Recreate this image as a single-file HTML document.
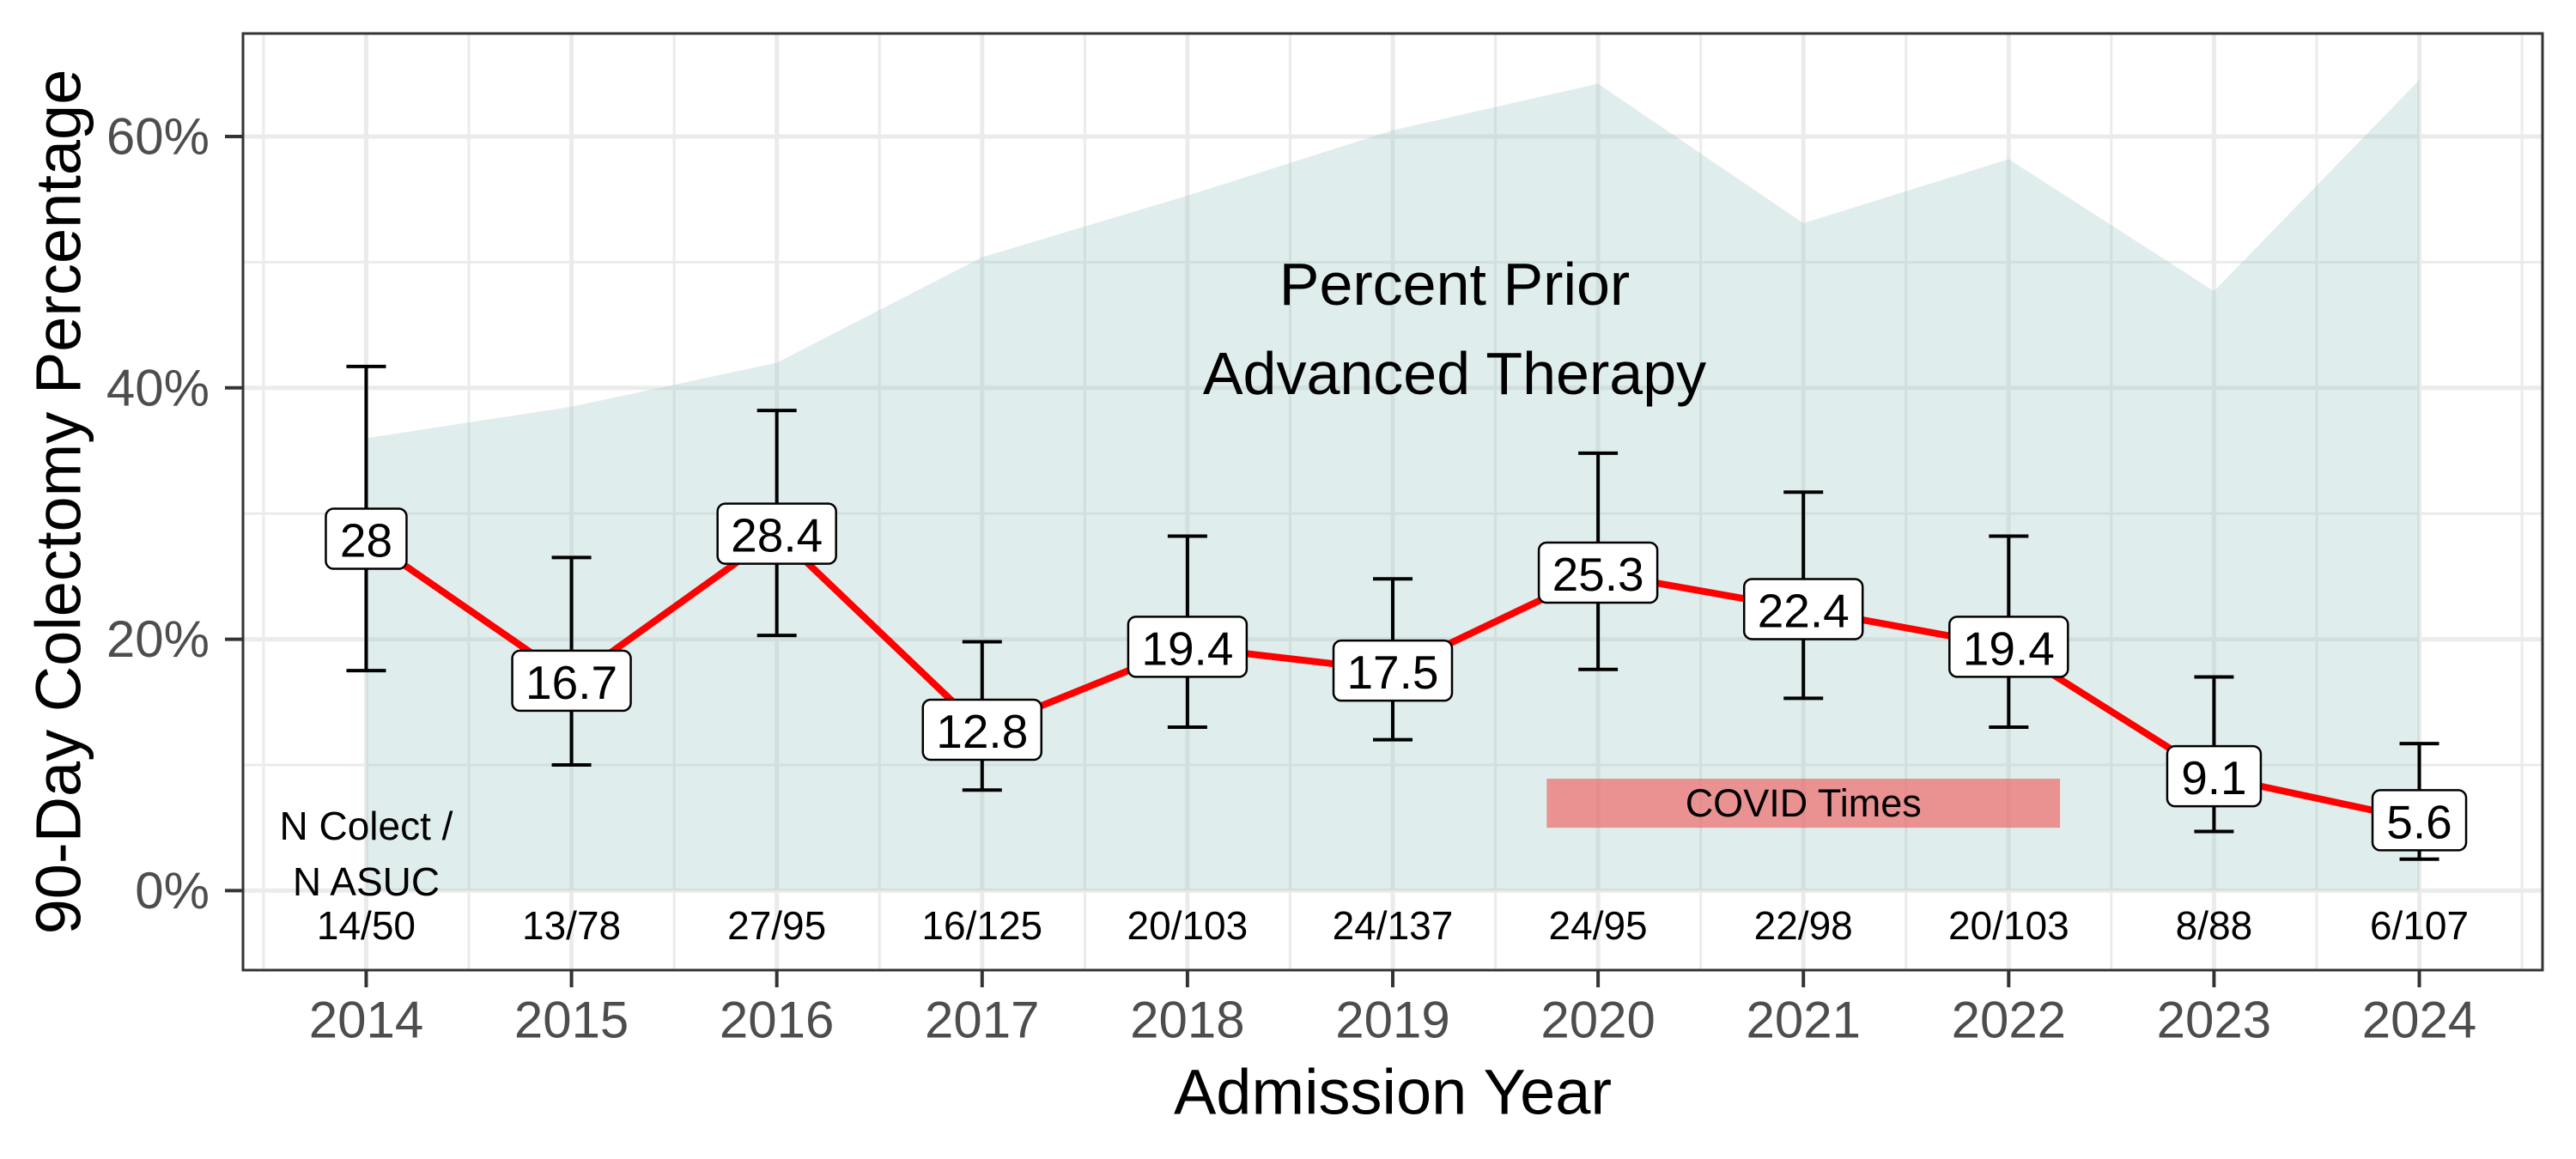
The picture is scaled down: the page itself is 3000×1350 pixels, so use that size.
<!DOCTYPE html>
<html><head><meta charset="utf-8">
<style>
html,body{margin:0;padding:0;background:#fff;}
svg{display:block;font-family:"Liberation Sans",Arial,sans-serif;}
</style></head>
<body>
<svg id="chart" width="3000" height="1350" viewBox="0 0 3000 1350" xmlns="http://www.w3.org/2000/svg">
<rect width="3000" height="1350" fill="#fff"/>
<g id="grid"></g>
<g id="area"></g>
<g id="ann"></g>
<g id="series"></g>
<g id="axes"></g>
</svg>
<script>
const years = [2014,2015,2016,2017,2018,2019,2020,2021,2022,2023,2024];
const colectomyPct = [28,16.7,28.4,12.8,19.4,17.5,25.3,22.4,19.4,9.1,5.6];
const ciLow = [17.5,10,20.3,8,13,12,17.6,15.3,13,4.7,2.5];
const ciHigh = [41.7,26.5,38.2,19.8,28.2,24.8,34.8,31.7,28.2,17,11.7];
const priorAdvPct = [36,38.5,42,50.4,55.3,60.5,64.2,53.1,58.2,47.7,64.5];
const countLabels = ["14/50","13/78","27/95","16/125","20/103","24/137","24/95","22/98","20/103","8/88","6/107"];
const yTicks = [0,20,40,60];
const yTickLabels = ["0%","20%","40%","60%"];
const covidStart = 2019.75, covidEnd = 2022.25, covidLow = 5, covidHigh = 8.9;

const PL=283, PR=2961, PT=39, PB=1130;
const X0=2013.4, X1=2024.6, Y0=-6.33, Y1=68.2;
const xs = v => PL + (v-X0)/(X1-X0)*(PR-PL);
const ys = v => PB - (v-Y0)/(Y1-Y0)*(PB-PT);
const NS="http://www.w3.org/2000/svg";
function mk(tag, attrs, parent){const e=document.createElementNS(NS,tag);for(const k in attrs)e.setAttribute(k,attrs[k]);parent.appendChild(e);return e;}
const grid=document.getElementById('grid'), area=document.getElementById('area'), ann=document.getElementById('ann'), series=document.getElementById('series'), axes=document.getElementById('axes');

for(let v=0; v<=60; v+=10){
  const major = v%20===0;
  const l=mk('line',{x1:PL,x2:PR,y1:ys(v),y2:ys(v),stroke:'#ebebeb','stroke-width':major?5:3},grid);
  
  
}
for(let v=2013.5; v<=2024.5; v+=0.5){
  const major = Number.isInteger(v);
  const l=mk('line',{x1:xs(v),x2:xs(v),y1:PT,y2:PB,stroke:'#ebebeb','stroke-width':major?5:3},grid);
  
  
}

let d='M'+xs(years[0])+','+ys(0);
years.forEach((y,i)=>{d+=' L'+xs(y)+','+ys(priorAdvPct[i]);});
d+=' L'+xs(years[years.length-1])+','+ys(0)+' Z';
const ap=mk('path',{d:d,fill:'rgb(160,200,200)','fill-opacity':0.33},area);



const t1=mk('text',{x:1694,y:331,'font-size':70,'text-anchor':'middle','dominant-baseline':'central',fill:'#000'},ann);
t1.textContent='Percent Prior';


const t2=mk('text',{x:1694,y:435,'font-size':70,'text-anchor':'middle','dominant-baseline':'central',fill:'#000'},ann);
t2.textContent='Advanced Therapy';


const cb=mk('rect',{x:xs(covidStart),y:ys(covidHigh),width:xs(covidEnd)-xs(covidStart),height:ys(covidLow)-ys(covidHigh),fill:'#f06060','fill-opacity':0.65},ann);


const ct=mk('text',{x:(xs(covidStart)+xs(covidEnd))/2,y:(ys(covidHigh)+ys(covidLow))/2,'font-size':45,'text-anchor':'middle','dominant-baseline':'central',fill:'#000'},ann);
ct.textContent='COVID Times';


const n1=mk('text',{x:xs(2014),y:962,'font-size':46,'text-anchor':'middle','dominant-baseline':'central'},ann);
n1.textContent='N Colect /';


const n2=mk('text',{x:xs(2014),y:1027,'font-size':46,'text-anchor':'middle','dominant-baseline':'central'},ann);
n2.textContent='N ASUC';


years.forEach((y,i)=>{
  const t=mk('text',{x:xs(y),y:1078,'font-size':46,'text-anchor':'middle','dominant-baseline':'central'},ann);
  t.textContent=countLabels[i];
  
  
});

years.forEach((y,i)=>{
  const g=mk('g',{stroke:'#000','stroke-width':4},series);
  
  
  mk('line',{x1:xs(y),x2:xs(y),y1:ys(ciLow[i]),y2:ys(ciHigh[i])},g);
  mk('line',{x1:xs(y)-23,x2:xs(y)+23,y1:ys(ciLow[i]),y2:ys(ciLow[i])},g);
  mk('line',{x1:xs(y)-23,x2:xs(y)+23,y1:ys(ciHigh[i]),y2:ys(ciHigh[i])},g);
});
const pl=mk('polyline',{points:years.map((y,i)=>xs(y)+','+ys(colectomyPct[i])).join(' '),fill:'none',stroke:'#ff0000','stroke-width':8,'stroke-linejoin':'round'},series);


years.forEach((y,i)=>{
  const txt=String(colectomyPct[i]);
  const w=txt.length*29+(txt.includes('.')?-14:0)+36;
  const g=mk('g',{},series);
  
  
  mk('rect',{x:xs(y)-w/2,y:ys(colectomyPct[i])-35,width:w,height:70,rx:9,fill:'#fff',stroke:'#000','stroke-width':2.5},g);
  const t=mk('text',{x:xs(y),y:ys(colectomyPct[i])+2,'font-size':55,'text-anchor':'middle','dominant-baseline':'central'},g);
  t.textContent=txt;
});

const fr=mk('rect',{x:PL,y:PT,width:PR-PL,height:PB-PT,fill:'none',stroke:'#333','stroke-width':3},axes);


yTicks.forEach((v,i)=>{
  const tk=mk('line',{x1:262,x2:PL,y1:ys(v),y2:ys(v),stroke:'#333','stroke-width':4},axes);
  
  
  const t=mk('text',{x:244,y:ys(v),'font-size':60,'text-anchor':'end','dominant-baseline':'central',fill:'#4d4d4d'},axes);
  t.textContent=yTickLabels[i];
  
  
});
years.forEach(y=>{
  const tk=mk('line',{x1:xs(y),x2:xs(y),y1:PB,y2:PB+20,stroke:'#333','stroke-width':4},axes);
  
  
  const t=mk('text',{x:xs(y),y:1188,'font-size':60,'text-anchor':'middle','dominant-baseline':'central',fill:'#4d4d4d'},axes);
  t.textContent=String(y);
  
  
});
const xt=mk('text',{x:(PL+PR)/2,y:1272,'font-size':74,'text-anchor':'middle','dominant-baseline':'central'},axes);
xt.textContent='Admission Year';


const yt=mk('text',{x:0,y:0,'font-size':74,'text-anchor':'middle','dominant-baseline':'central',transform:'translate(68,'+((PT+PB)/2)+') rotate(-90)'},axes);
yt.textContent='90-Day Colectomy Percentage';


</script>
</body></html>
